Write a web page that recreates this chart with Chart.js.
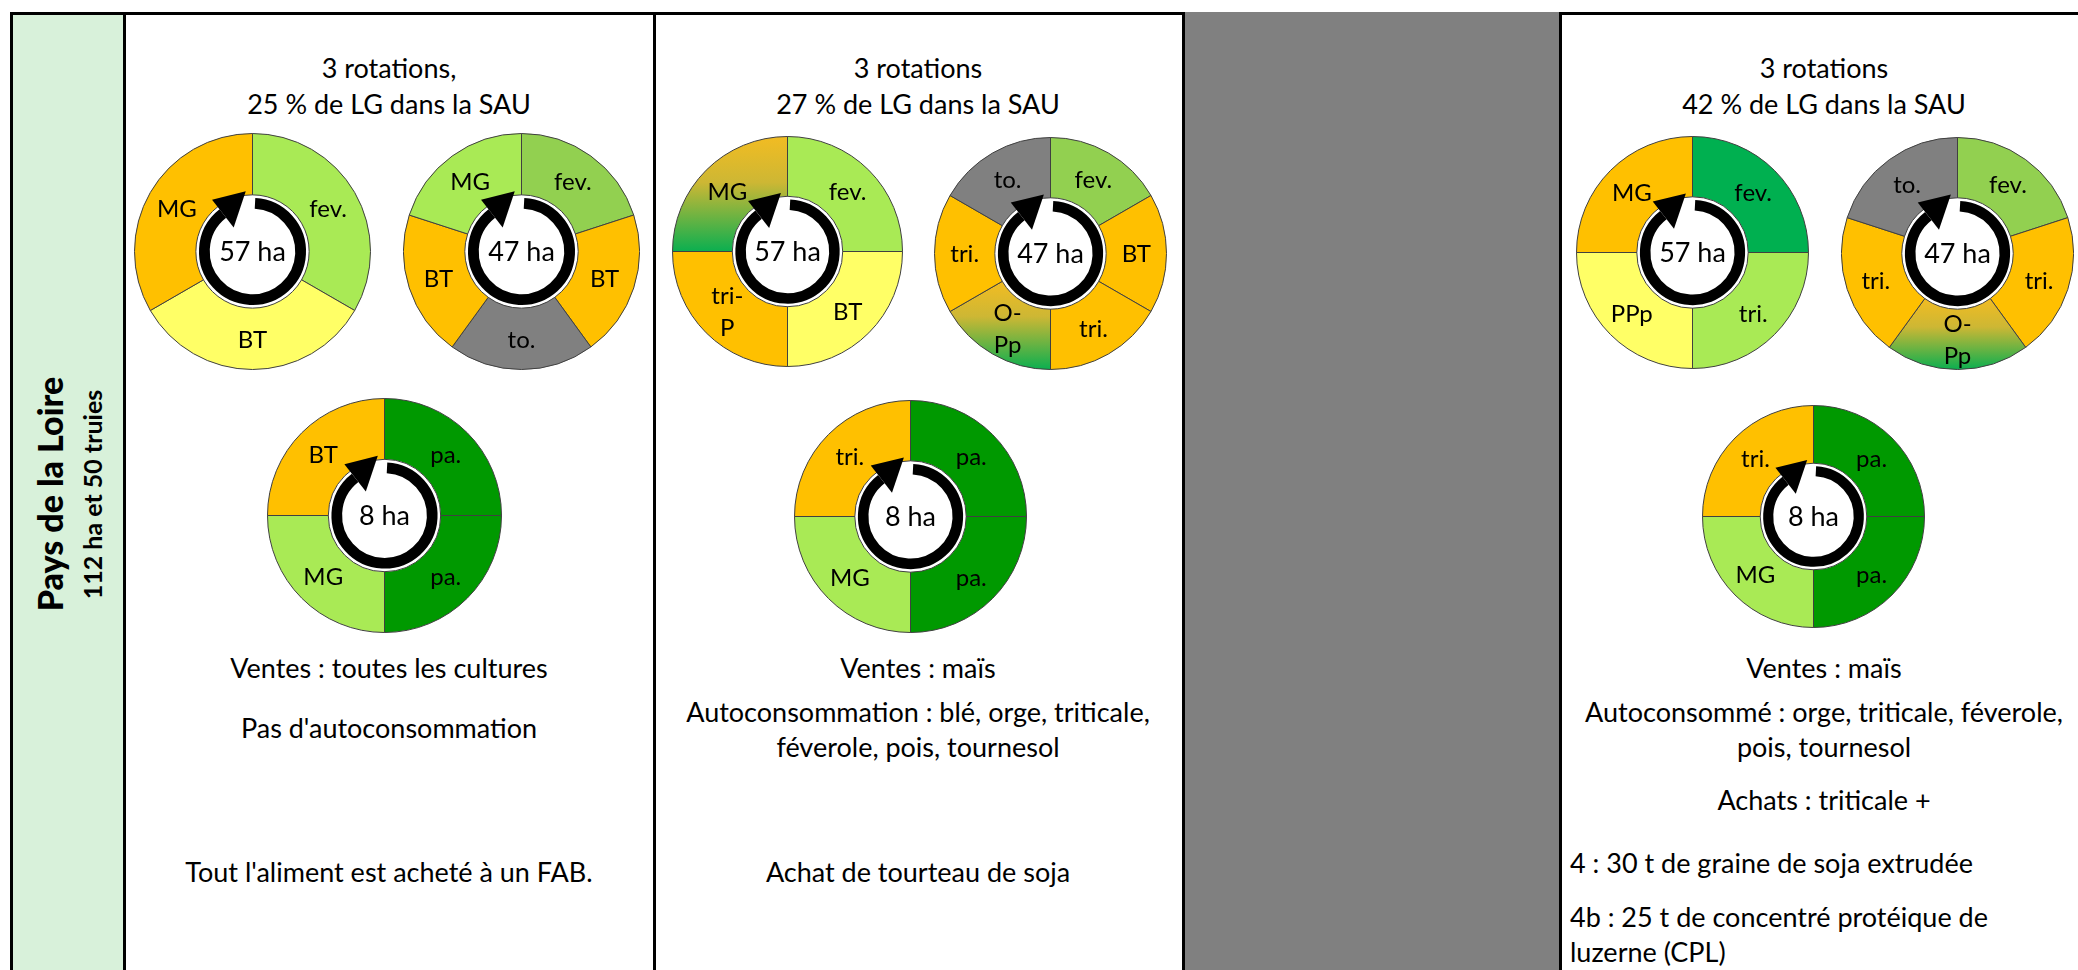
<!DOCTYPE html>
<html><head><meta charset="utf-8">
<script src="https://cdn.jsdelivr.net/npm/chart.js@4.4.1/dist/chart.umd.min.js"></script>
<style>
html,body{margin:0;padding:0;background:#fff;}
body{width:2078px;height:970px;position:relative;overflow:hidden;font-family:Lato,'Open Sans',sans-serif;color:#000;}
.box{position:absolute;}
.txt{position:absolute;white-space:nowrap;}
canvas{position:absolute;}
</style></head><body>
<script>
// ---------- colours ----------
const ORANGE = '#FFC000', YELLOW = '#FFFF66', LGREEN = '#A9EA55', MGREEN = '#92D050',
      GREEN = '#00B050', DGREEN = '#009900', GRAY = '#808080', GRAD = 'gradient';

// ---------- data (segments clockwise from 12 o'clock) ----------
const surfaces = ['57 ha', '47 ha', '8 ha'];

const c1aLabels = ['fev.', 'BT', 'MG'];
const c1aValues = [1, 1, 1];
const c1aColors = [LGREEN, YELLOW, ORANGE];

const c1bLabels = ['fev.', 'BT', 'to.', 'BT', 'MG'];
const c1bValues = [1, 1, 1, 1, 1];
const c1bColors = [MGREEN, ORANGE, GRAY, ORANGE, LGREEN];

const c1cLabels = ['pa.', 'pa.', 'MG', 'BT'];
const c1cValues = [1, 1, 1, 1];
const c1cColors = [DGREEN, DGREEN, LGREEN, ORANGE];

const c2aLabels = ['fev.', 'BT', 'tri-\nP', 'MG'];
const c2aValues = [1, 1, 1, 1];
const c2aColors = [LGREEN, YELLOW, ORANGE, GRAD];

const c2bLabels = ['fev.', 'BT', 'tri.', 'O-\nPp', 'tri.', 'to.'];
const c2bValues = [1, 1, 1, 1, 1, 1];
const c2bColors = [MGREEN, ORANGE, ORANGE, GRAD, ORANGE, GRAY];

const c2cLabels = ['pa.', 'pa.', 'MG', 'tri.'];
const c2cValues = [1, 1, 1, 1];
const c2cColors = [DGREEN, DGREEN, LGREEN, ORANGE];

const c4aLabels = ['fev.', 'tri.', 'PPp', 'MG'];
const c4aValues = [1, 1, 1, 1];
const c4aColors = [GREEN, LGREEN, YELLOW, ORANGE];

const c4bLabels = ['fev.', 'tri.', 'O-\nPp', 'tri.', 'to.'];
const c4bValues = [1, 1, 1, 1, 1];
const c4bColors = [MGREEN, ORANGE, GRAD, ORANGE, GRAY];

const c4cLabels = ['pa.', 'pa.', 'MG', 'tri.'];
const c4cValues = [1, 1, 1, 1];
const c4cColors = [DGREEN, DGREEN, LGREEN, ORANGE];

// ---------- texts ----------
const rowTitle = 'Pays de la Loire';
const rowSub = '112 ha et 50 truies';
const col1Texts = ['3 rotations,', '25 % de LG dans la SAU', 'Ventes : toutes les cultures', "Pas d'autoconsommation", "Tout l'aliment est acheté à un FAB."];
const col2Texts = ['3 rotations', '27 % de LG dans la SAU', 'Ventes : maïs', 'Autoconsommation : blé, orge, triticale,', 'féverole, pois, tournesol', 'Achat de tourteau de soja'];
const col4Texts = ['3 rotations', '42 % de LG dans la SAU', 'Ventes : maïs', 'Autoconsommé : orge, triticale, féverole,', 'pois, tournesol', 'Achats : triticale +'];
const col4Notes = ['4 : 30 t de graine de soja extrudée', '4b : 25 t de concentré protéique de', 'luzerne (CPL)'];

// ---------- layout ----------
const CUT = 0.48;
const donuts = [
  {labels: c1aLabels, values: c1aValues, colors: c1aColors, center: surfaces[0], cx: 252, cy: 251, r: 118},
  {labels: c1bLabels, values: c1bValues, colors: c1bColors, center: surfaces[1], cx: 521, cy: 251, r: 118},
  {labels: c1cLabels, values: c1cValues, colors: c1cColors, center: surfaces[2], cx: 384, cy: 515, r: 117},
  {labels: c2aLabels, values: c2aValues, colors: c2aColors, center: surfaces[0], cx: 787, cy: 251, r: 115},
  {labels: c2bLabels, values: c2bValues, colors: c2bColors, center: surfaces[1], cx: 1050, cy: 253, r: 116},
  {labels: c2cLabels, values: c2cValues, colors: c2cColors, center: surfaces[2], cx: 910, cy: 516, r: 116},
  {labels: c4aLabels, values: c4aValues, colors: c4aColors, center: surfaces[0], cx: 1692, cy: 252, r: 116},
  {labels: c4bLabels, values: c4bValues, colors: c4bColors, center: surfaces[1], cx: 1957, cy: 253, r: 116},
  {labels: c4cLabels, values: c4cValues, colors: c4cColors, center: surfaces[2], cx: 1813, cy: 516, r: 111}
];

function box(x, y, w, h, bg) {
  const d = document.createElement('div');
  d.className = 'box';
  Object.assign(d.style, {left: x + 'px', top: y + 'px', width: w + 'px', height: h + 'px', background: bg});
  document.body.appendChild(d);
  return d;
}
function text(str, x, y, opts = {}) {
  const size = opts.size || 27;
  const d = document.createElement('div');
  d.className = 'txt';
  d.textContent = str;
  const align = opts.align || 'center';
  const w = 1000;
  Object.assign(d.style, {
    fontSize: size + 'px', lineHeight: size + 'px', height: size + 'px',
    top: (y - size * 0.527) + 'px', fontWeight: opts.weight || 'normal',
    textAlign: align, width: w + 'px',
    left: (align === 'center' ? x - w / 2 : x) + 'px'
  });
  document.body.appendChild(d);
  return d;
}
function vtext(str, cx, cy, size, weight) {
  const d = document.createElement('div');
  d.className = 'txt';
  d.textContent = str;
  const w = 500;
  Object.assign(d.style, {
    fontSize: size + 'px', lineHeight: size + 'px', height: size + 'px', width: w + 'px',
    left: (cx - w / 2) + 'px', top: (cy - size / 2) + 'px', textAlign: 'center',
    fontWeight: weight, transform: 'rotate(-90deg)', transformOrigin: '50% 50%'
  });
  document.body.appendChild(d);
}

// ---------- table frame ----------
box(13, 15, 110, 955, '#D8F1DA');
box(10, 12, 2068, 3, '#000');
box(10, 12, 3, 958, '#000');
box(123, 12, 3, 958, '#000');
box(653, 12, 3, 958, '#000');
box(1182, 12, 3, 958, '#000');
box(1185, 12, 375, 958, '#808080');
box(1559, 12, 3, 958, '#000');

// ---------- texts ----------
vtext(rowTitle, 50, 494, 34, '900');
vtext(rowSub, 92, 494, 25, 'bold');

text(col1Texts[0], 389, 68); text(col1Texts[1], 389, 104);
text(col1Texts[2], 389, 668); text(col1Texts[3], 389, 728); text(col1Texts[4], 389, 872);

text(col2Texts[0], 918, 68); text(col2Texts[1], 918, 104);
text(col2Texts[2], 918, 668); text(col2Texts[3], 918, 712); text(col2Texts[4], 918, 747);
text(col2Texts[5], 918, 872);

text(col4Texts[0], 1824, 68); text(col4Texts[1], 1824, 104);
text(col4Texts[2], 1824, 668); text(col4Texts[3], 1824, 712); text(col4Texts[4], 1824, 747);
text(col4Texts[5], 1824, 800);
text(col4Notes[0], 1570, 863, {align: 'left'});
text(col4Notes[1], 1570, 917, {align: 'left'});
text(col4Notes[2], 1570, 952, {align: 'left'});

// ---------- chart helpers ----------
function segColor(colors) {
  return (c) => {
    const col = colors[c.dataIndex];
    if (col !== GRAD) return col;
    const chart = c.chart, area = chart.chartArea;
    if (!area) return ORANGE;
    const ds = chart.data.datasets[0].data;
    const total = ds.reduce((s, v) => s + v, 0);
    let before = 0;
    for (let k = 0; k < c.dataIndex; k++) before += ds[k];
    const a0 = -Math.PI / 2 + before / total * 2 * Math.PI;
    const a1 = a0 + ds[c.dataIndex] / total * 2 * Math.PI;
    const cy = (area.top + area.bottom) / 2;
    const R = (Math.min(area.width, area.height) - 1) / 2, r = R * CUT;
    let ymin = Infinity, ymax = -Infinity;
    for (let s = 0; s <= 40; s++) {
      const a = a0 + (a1 - a0) * s / 40;
      for (const rad of [r, R]) {
        const y = cy + rad * Math.sin(a);
        ymin = Math.min(ymin, y); ymax = Math.max(ymax, y);
      }
    }
    const g = chart.ctx.createLinearGradient(0, ymin, 0, ymax);
    g.addColorStop(0, '#F2BC22');
    g.addColorStop(0.4, '#CDB734');
    g.addColorStop(1, '#0BAF50');
    return g;
  };
}

const deco = {
  id: 'deco',
  afterDatasetsDraw(chart, args, opts) {
    const ctx = chart.ctx;
    const meta = chart.getDatasetMeta(0);
    const labels = chart.data.labels;
    let cx = 0, cy = 0, inner = 0;
    ctx.save();
    ctx.fillStyle = '#000';
    ctx.textAlign = 'center';
    ctx.textBaseline = 'middle';
    ctx.font = '24px Lato, "Open Sans", sans-serif';
    meta.data.forEach((arc, i) => {
      const p = arc.getProps(['x', 'y', 'startAngle', 'endAngle', 'innerRadius', 'outerRadius'], true);
      cx = p.x; cy = p.y; inner = p.innerRadius;
      const a = (p.startAngle + p.endAngle) / 2;
      const rr = (p.innerRadius + p.outerRadius) / 2;
      const lx = cx + rr * Math.cos(a), ly = cy + rr * Math.sin(a);
      const lines = String(labels[i]).split('\n');
      const lh = 32;
      lines.forEach((ln, k) => {
        ctx.fillText(ln, lx, ly + (k - (lines.length - 1) / 2) * lh + 1);
      });
    });
    // circular arrow
    const rr = inner * 0.85, lw = inner * 0.19;
    const deg = Math.PI / 180;
    ctx.beginPath();
    ctx.lineWidth = lw;
    ctx.strokeStyle = '#000';
    ctx.lineCap = 'butt';
    ctx.arc(cx, cy, rr, -90 * deg + 3 * deg, 232 * deg, false);
    ctx.stroke();
    const th = 232 * deg;
    const bx = cx + rr * Math.cos(th), by = cy + rr * Math.sin(th);
    const ux = Math.cos(th), uy = Math.sin(th), tx = -Math.sin(th), ty = Math.cos(th);
    const h = inner * 0.31, L = inner * 0.56;
    ctx.beginPath();
    ctx.moveTo(bx + ux * h, by + uy * h);
    ctx.lineTo(bx + tx * L + ux * inner * 0.06, by + ty * L + uy * inner * 0.06);
    ctx.lineTo(bx - ux * h, by - uy * h);
    ctx.closePath();
    ctx.fill();
    // centre label
    ctx.font = '27px Lato, "Open Sans", sans-serif';
    ctx.fillText(opts.center, cx, cy + 1);
    ctx.restore();
  }
};

donuts.forEach((d) => {
  const size = Math.round(2 * d.r + 1);
  const cv = document.createElement('canvas');
  cv.width = size; cv.height = size;
  cv.style.left = (d.cx - size / 2) + 'px';
  cv.style.top = (d.cy - size / 2) + 'px';
  cv.style.width = size + 'px'; cv.style.height = size + 'px';
  document.body.appendChild(cv);
  new Chart(cv, {
    type: 'doughnut',
    data: {
      labels: d.labels,
      datasets: [{
        data: d.values,
        backgroundColor: segColor(d.colors),
        borderColor: '#404040',
        borderWidth: 1,
        hoverBorderWidth: 1,
        hoverOffset: 0,
        offset: 0
      }]
    },
    options: {
      responsive: false,
      animation: false,
      events: [],
      cutout: (CUT * 100) + '%',
      layout: {padding: 0},
      plugins: {legend: {display: false}, tooltip: {enabled: false}, deco: {center: d.center}}
    },
    plugins: [deco]
  });
});
</script>
</body></html>
